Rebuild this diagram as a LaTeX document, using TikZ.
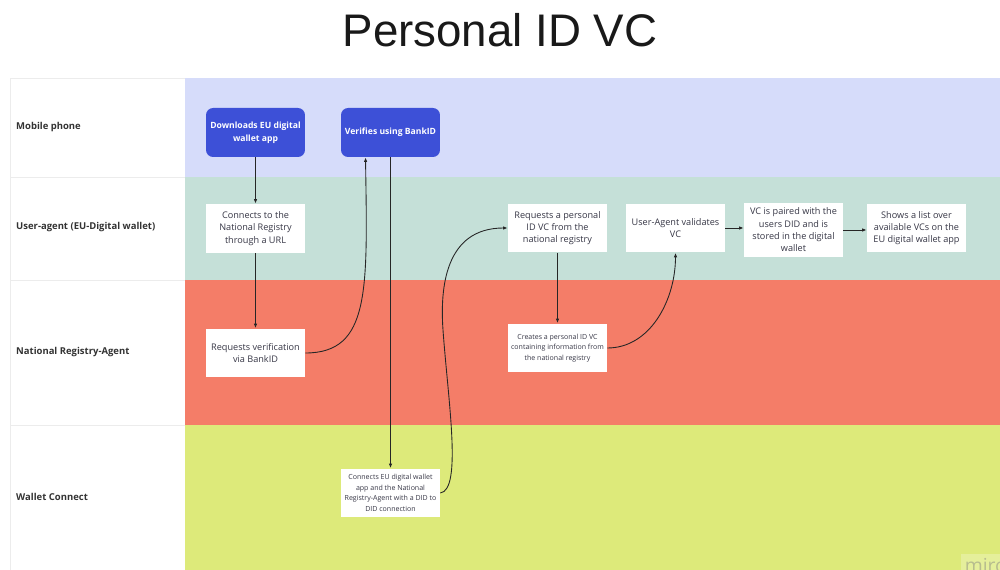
\documentclass[tikz,border=0pt]{standalone}
\usepackage{fontspec}
\setmainfont{Open Sans}
\newfontfamily\titlefont{Liberation Sans}
\usetikzlibrary{arrows.meta,calc}

\definecolor{phonelane}{RGB}{214,220,250}
\definecolor{agentlane}{RGB}{197,224,216}
\definecolor{registrylane}{RGB}{244,125,104}
\definecolor{connectlane}{RGB}{221,234,122}
\definecolor{stepblue}{RGB}{61,80,215}
\definecolor{gridline}{RGB}{236,236,236}
\definecolor{boxtext}{RGB}{55,55,70}

\tikzset{
  flow/.style={fill=white, minimum width=1.98cm, minimum height=0.98cm, inner sep=1pt, align=center, text=boxtext, font=\fontsize{5.2}{7}\selectfont},
  smallflow/.style={flow, font=\fontsize{4}{6}\selectfont},
  phonestep/.style={flow, fill=stepblue, text=white, rounded corners=4pt, font=\bfseries\fontsize{4.9}{7.4}\selectfont},
  lanelabel/.style={anchor=west, text=black!80, font=\bfseries\fontsize{5.4}{6}\selectfont},
  link/.style={draw=black!85, line width=0.5pt, -{Latex[length=2.6pt,width=2pt]}},
}

\begin{document}
\begin{tikzpicture}[x=0.02cm,y=-0.02cm]
\useasboundingbox (0,0) rectangle (1000,570);
%\draw[step=50,gray,very thin] (0,0) grid (1000,570);
\node[anchor=base, font=\titlefont\fontsize{26}{30}\selectfont, text=black!90] (title) at (500,47) {Personal ID VC};

% lanes
\fill[phonelane] (185,78) rectangle (1000,177);
\fill[agentlane] (185,177) rectangle (1000,280);
\fill[registrylane] (185,280) rectangle (1000,425);
\fill[connectlane] (185,425) rectangle (1000,570);
\draw[gridline] (10,570) -- (10,78) -- (185,78);
\draw[gridline] (10,177) -- (185,177);
\draw[gridline] (10,280) -- (185,280);
\draw[gridline] (10,425) -- (185,425);
\node[lanelabel] (lphone) at (10,127) {Mobile phone};
\node[lanelabel] (lagent) at (10,227) {User-agent (EU-Digital wallet)};
\node[lanelabel] (lregistry) at (10,352) {National Registry-Agent};
\node[lanelabel] (lconnect) at (10,497) {Wallet Connect};

% steps
\node[phonestep] (dl) at (255.5,132.5) {Downloads EU digital\\wallet app};
\node[phonestep] (vb) at (390.5,132.5) {Verifies using BankID};
\node[flow] (cr) at (255.5,228.5) {Connects to the\\National Registry\\through a URL};
\node[flow] (rv) at (255.5,353) {Requests verification\\via BankID};
\node[smallflow] (ce) at (390.5,493) {Connects EU digital wallet\\app and the National\\Registry-Agent with a DID to\\DID connection};
\node[flow] (rp) at (557.5,228) {Requests a personal\\ID VC from the\\national registry};
\node[smallflow] (cv) at (557.5,348) {Creates a personal ID VC\\containing information from\\the national registry};
\node[flow] (uv) at (675.5,228) {User-Agent validates\\VC};
\node[flow, minimum height=1.08cm] (vp) at (793.5,230) {VC is paired with the\\users DID and is\\stored in the digital\\wallet};
\node[flow] (sl) at (916.5,228) {Shows a list over\\available VCs on the\\EU digital wallet app};

% connectors
\draw[link] (dl) -- (cr);
\draw[link] (cr) -- (rv);
\draw[link] (rv.east) .. controls +(65,0) and +(2,133) .. ($(vb.south)+(-25,0)$);
\draw[link] (vb) -- (ce);
\coordinate (bend) at (443,330);
\draw[link] (ce.east) .. controls +(22,-3) and (448,400) .. (bend) .. controls (440,288) and (445,228) .. (rp.west);
\draw[link] (rp) -- (cv);
\draw[link] (cv.east) .. controls +(43,0) and +(0,47) .. (uv.south);
\draw[link] (uv.east) -- (uv.east -| vp.west);
\draw[link] (vp.east) -- (vp.east -| sl.west);

\node[anchor=north west, fill=white, fill opacity=0.25, text opacity=0.45, text=gray, inner sep=2pt, font=\fontsize{11}{11}\selectfont] (miro) at (961,554) {miro};
\end{tikzpicture}
\end{document}
